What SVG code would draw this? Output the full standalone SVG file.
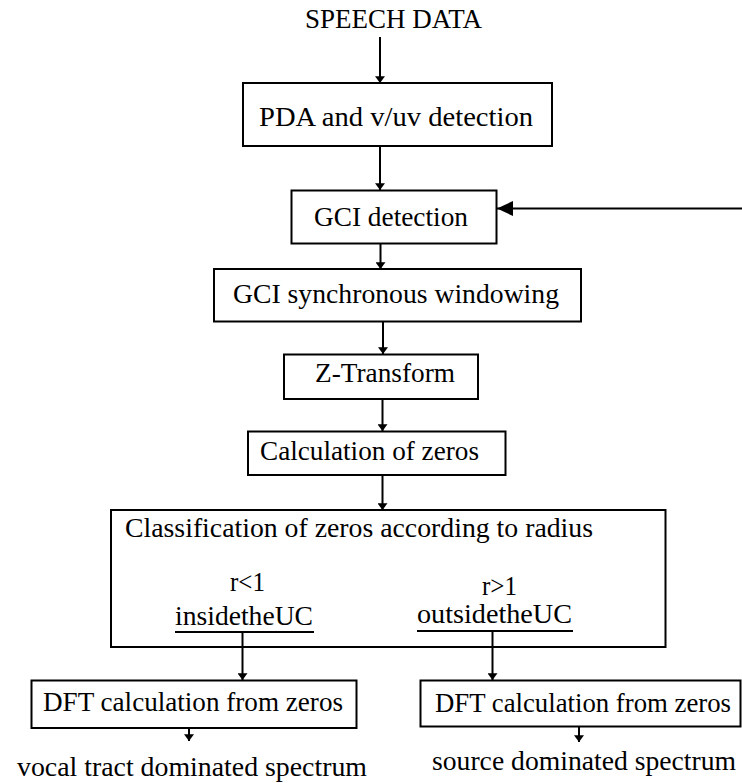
<svg xmlns="http://www.w3.org/2000/svg" width="742" height="783" viewBox="0 0 742 783">
<style>
.box{fill:#fff;stroke:#000;stroke-width:2}
.t{font-family:'Liberation Serif','Times New Roman',serif;font-size:27px;fill:#000}
.c{stroke:#000;stroke-width:2;fill:none}
</style>
<defs>
<marker id="a" markerUnits="userSpaceOnUse" markerWidth="7" markerHeight="10" refX="6" refY="4.5" orient="auto" viewBox="0 0 6 9">
<path d="M0,0 L6,4.5 L0,9 Z" fill="#000"/>
</marker>
<marker id="big" markerUnits="userSpaceOnUse" markerWidth="16" markerHeight="16" refX="0" refY="7.5" orient="0" viewBox="0 0 16 15">
<path d="M0,7.5 L16,0 L16,15 Z" fill="#000"/>
</marker>
</defs>
<g id="speech"><text class="t" x="305" y="28" textLength="177" lengthAdjust="spacingAndGlyphs">SPEECH DATA</text></g>
<g id="pda"><rect class="box" x="243" y="83" width="309" height="63"/><text class="t" x="259" y="126" textLength="274" lengthAdjust="spacingAndGlyphs">PDA and v/uv detection</text></g>
<g id="gci"><rect class="box" x="291.5" y="190.5" width="205" height="53"/><text class="t" x="314" y="226" textLength="154" lengthAdjust="spacingAndGlyphs">GCI detection</text></g>
<g id="win"><rect class="box" x="214" y="269" width="367" height="52.5"/><text class="t" x="233" y="303" textLength="326" lengthAdjust="spacingAndGlyphs">GCI synchronous windowing</text></g>
<g id="z"><rect class="box" x="284" y="354.5" width="194" height="44.5"/><text class="t" x="315" y="382" textLength="140" lengthAdjust="spacingAndGlyphs">Z-Transform</text></g>
<g id="calc"><rect class="box" x="248" y="431.5" width="257.5" height="43.5"/><text class="t" x="260" y="460" textLength="219" lengthAdjust="spacingAndGlyphs">Calculation of zeros</text></g>
<g id="class"><rect class="box" x="111" y="510" width="554.5" height="137"/>
<text class="t" x="125" y="537" textLength="468" lengthAdjust="spacingAndGlyphs">Classification of zeros according to radius</text>
<text class="t" x="230" y="591" textLength="35" lengthAdjust="spacingAndGlyphs">r&lt;1</text>
<text class="t" x="175" y="625" textLength="138" lengthAdjust="spacingAndGlyphs">insidetheUC</text>
<line class="c" x1="175" y1="632" x2="314" y2="632"/>
<text class="t" x="482" y="595" textLength="35" lengthAdjust="spacingAndGlyphs">r&gt;1</text>
<text class="t" x="417" y="623" textLength="155" lengthAdjust="spacingAndGlyphs">outsidetheUC</text>
<line class="c" x1="417" y1="631" x2="573" y2="631"/>
</g>
<g id="dft1"><rect class="box" x="31.5" y="680.5" width="325" height="47.5"/><text class="t" x="43" y="711" textLength="300" lengthAdjust="spacingAndGlyphs">DFT calculation from zeros</text></g>
<g id="dft2"><rect class="box" x="420.5" y="680.5" width="320" height="46"/><text class="t" x="435" y="712" textLength="296" lengthAdjust="spacingAndGlyphs">DFT calculation from zeros</text></g>
<g id="out1"><text class="t" x="17" y="776" textLength="350" lengthAdjust="spacingAndGlyphs">vocal tract dominated spectrum</text></g>
<g id="out2"><text class="t" x="432" y="770" textLength="304" lengthAdjust="spacingAndGlyphs">source dominated spectrum</text></g>
<g id="connectors">
<line class="c" x1="380" y1="37" x2="380" y2="83" marker-end="url(#a)"/>
<line class="c" x1="380" y1="146" x2="380" y2="190" marker-end="url(#a)"/>
<line class="c" x1="742" y1="208.5" x2="497" y2="208.5" marker-end="url(#big)"/>
<line class="c" x1="380.5" y1="243.5" x2="380.5" y2="269" marker-end="url(#a)"/>
<line class="c" x1="383" y1="321.5" x2="383" y2="354" marker-end="url(#a)"/>
<line class="c" x1="382.5" y1="399" x2="382.5" y2="431" marker-end="url(#a)"/>
<line class="c" x1="382.5" y1="475" x2="382.5" y2="510" marker-end="url(#a)"/>
<line class="c" x1="242.5" y1="632" x2="242.5" y2="680" marker-end="url(#a)"/>
<line class="c" x1="492.5" y1="631" x2="492.5" y2="680" marker-end="url(#a)"/>
<line class="c" x1="189" y1="728" x2="189" y2="741" marker-end="url(#a)"/>
<line class="c" x1="579" y1="727" x2="579" y2="742" marker-end="url(#a)"/>
</g>
</svg>
